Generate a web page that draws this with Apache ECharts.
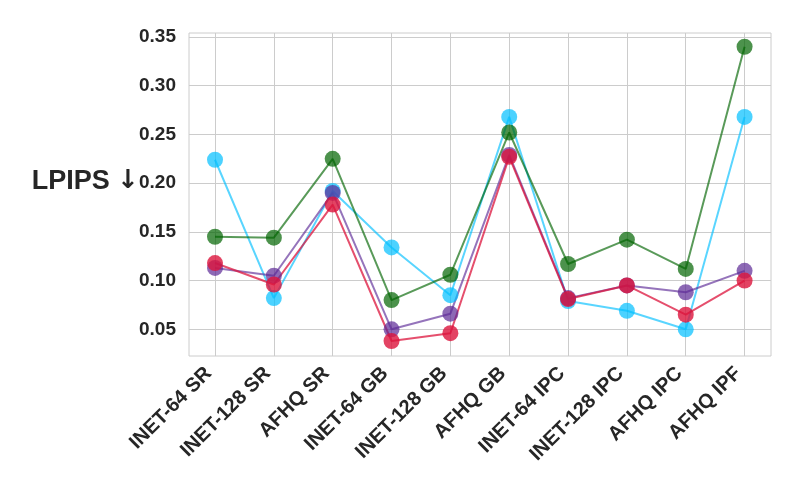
<!DOCTYPE html>
<html>
<head>
<meta charset="utf-8">
<script src="https://cdn.jsdelivr.net/npm/echarts@6/dist/echarts.min.js"></script>
<style>
    html, body {margin: 0; padding: 0; background: #fff;}
    #chart {width: 800px; height: 500px;}
</style>
</head>
<body>
<div id="chart"></div>
<script>
const categories = [
    'INET-64 SR', 'INET-128 SR', 'AFHQ SR', 'INET-64 GB', 'INET-128 GB',
    'AFHQ GB', 'INET-64 IPC', 'INET-128 IPC', 'AFHQ IPC', 'AFHQ IPF',
];
const yTicks = [0.05, 0.10, 0.15, 0.20, 0.25, 0.30, 0.35];
const cyanValues = [0.224, 0.082, 0.192, 0.134, 0.085, 0.268, 0.079, 0.069, 0.050, 0.268];
const greenValues = [0.145, 0.144, 0.225, 0.080, 0.106, 0.252, 0.117, 0.142, 0.112, 0.340];
const purpleValues = [0.113, 0.105, 0.190, 0.050, 0.066, 0.229, 0.082, 0.095, 0.088, 0.110];
const redValues = [0.118, 0.096, 0.178, 0.038, 0.046, 0.227, 0.081, 0.095, 0.065, 0.100];

const seriesDefs = [
    {id: 'cyan', data: cyanValues, color: '#00bfff', alpha: 0.7},
    {id: 'green', data: greenValues, color: '#006400', alpha: 0.7},
    {id: 'purple', data: purpleValues, color: '#5c2a96', alpha: 0.7},
    {id: 'red', data: redValues, color: '#dc143c', alpha: 0.8},
];

const font = '"Liberation Sans", Arial, sans-serif';
const textColor = '#262626';
const gridColor = '#cccccc';
const xIdx = categories.map((x, i) => i);

const chart = echarts.init(document.getElementById('chart'), null, {renderer: 'canvas'});
chart.setOption({
    animation: false,
    backgroundColor: '#fff',
    grid: {
        left: 189, right: 29, top: 33, bottom: 144,
        show: true,
        borderColor: gridColor,
        borderWidth: 1,
    },
    xAxis: {
        type: 'value',
        min: -0.442,
        max: 9.449,
        axisLine: {show: false},
        axisTick: {show: false, customValues: xIdx},
        splitLine: {show: true, lineStyle: {color: gridColor, width: 1}},
        axisLabel: {
            customValues: xIdx,
            rotate: 45,
            margin: 8,
            padding: [0, 9, 0, 0],
            color: textColor,
            fontFamily: font,
            fontWeight: 'bold',
            fontSize: 20,
            formatter: v => categories[Math.round(v)],
        },
    },
    yAxis: {
        type: 'value',
        min: 0.0226,
        max: 0.3541,
        name: 'LPIPS {arrow|↓}',
        nameLocation: 'middle',
        nameRotate: 0,
        nameGap: 50,
        nameMoveOverlap: false,
        nameTextStyle: {
            color: textColor,
            fontFamily: font,
            fontWeight: 'bold',
            fontSize: 27,
            padding: [0, 0, 26, 0],
            rich: {
                arrow: {
                    color: textColor,
                    fontFamily: '"DejaVu Sans"',
                    fontWeight: 'bold',
                    fontSize: 26,
                },
            },
        },
        axisLine: {show: false},
        axisTick: {show: false, customValues: yTicks},
        splitLine: {show: true, lineStyle: {color: gridColor, width: 1}},
        axisLabel: {
            customValues: yTicks,
            margin: 13,
            color: textColor,
            fontFamily: font,
            fontWeight: 'bold',
            fontSize: 19,
            formatter: v => v.toFixed(2),
        },
    },
    series: seriesDefs.map(s => ({
        id: s.id,
        type: 'line',
        data: s.data.map((v, i) => [i, v]),
        symbol: 'circle',
        symbolSize: 16,
        showSymbol: true,
        lineStyle: {color: s.color, width: 2, opacity: s.alpha - 0.05},
        itemStyle: {color: s.color, opacity: s.alpha},
        emphasis: {disabled: true},
    })),
});
</script>
</body>
</html>
